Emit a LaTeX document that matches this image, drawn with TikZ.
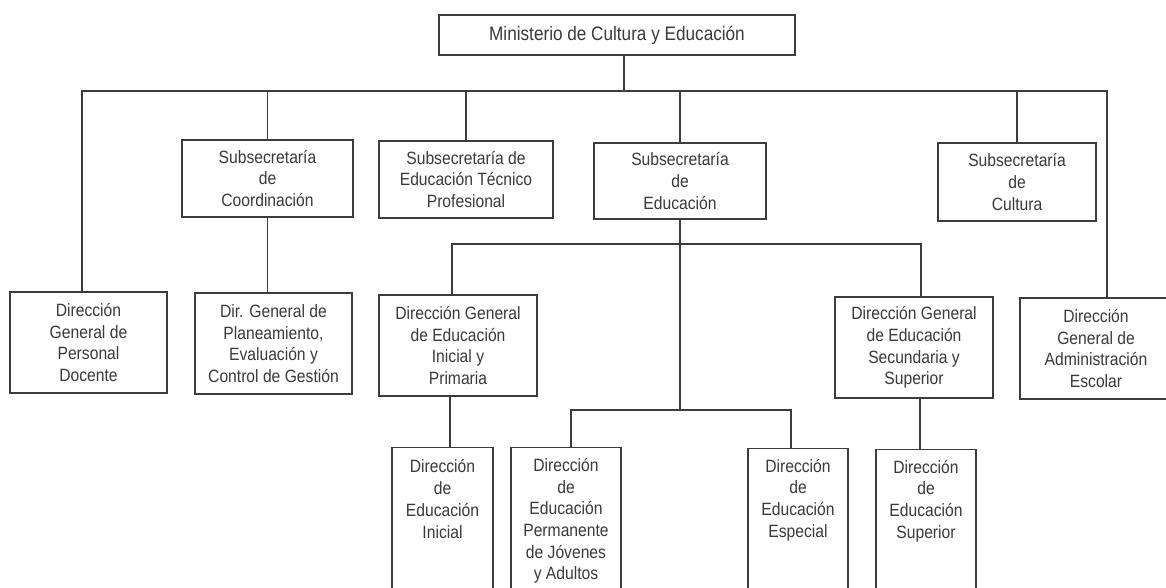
\documentclass[tikz,border=0pt]{standalone}
\usepackage{fontspec}
\setmainfont{Liberation Sans}[FakeStretch=0.88]
\definecolor{linec}{HTML}{3C3C3C}
\definecolor{textc}{HTML}{3A3A3A}
\begin{document}
\begin{tikzpicture}[x=1pt,y=-1pt,
  box/.style={draw=linec, line width=1.1pt, inner sep=0pt, align=center, text=textc,
    font=\fontsize{17.8}{21.7}\selectfont},
  txt/.style={inner sep=0pt, align=center, text=textc, font=\fontsize{17.8}{21.7}\selectfont},
  conn/.style={draw=linec, line width=1.1pt}]
\useasboundingbox (0,0) rectangle (1166,588);
\clip (0,0) rectangle (1166,588);
\fill[white] (0,0) rectangle (1166,588);

\node[box, minimum width=356, minimum height=40, font=\fontsize{19.5}{23}\selectfont] (min) at (617,35) {Ministerio de Cultura y Educación};

\node[box, minimum width=157, minimum height=101] (pers) at (88.5,342.5) {Dirección\\General de\\Personal\\Docente};
\node[box, minimum width=171, minimum height=77] (coord) at (267.5,178.5) {Subsecretaría\\de\\Coordinación};
\node[box, minimum width=157, minimum height=101] (plan) at (273.5,343.5) {Dir. General de\\Planeamiento,\\Evaluación y\\Control de Gestión};
\node[box, minimum width=174, minimum height=77] (tec) at (466,179.5) {Subsecretaría de\\Educación Técnico\\Profesional};
\node[box, minimum width=172, minimum height=76] (edu) at (680,181) {Subsecretaría\\de\\Educación};
\node[box, minimum width=158, minimum height=78] (cult) at (1017,182) {Subsecretaría\\de\\Cultura};
\node[box, minimum width=152, minimum height=101] (adm) at (1096,348.5) {Dirección\\General de\\Administración\\Escolar};
\node[box, minimum width=158, minimum height=101] (inip) at (458,345.5) {Dirección General\\de Educación\\Inicial y\\Primaria};
\node[box, minimum width=158, minimum height=101] (sec) at (914,347.5) {Dirección General\\de Educación\\Secundaria y\\Superior};

\node[box, minimum width=101, minimum height=170, anchor=north] (ei) at (442.5,447) {};
\node[txt] (eit) at (442.5,499) {Dirección\\de\\Educación\\Inicial};
\node[box, minimum width=110, minimum height=170, anchor=north] (perm) at (566,447) {};
\node[txt] (permt) at (566,521) {Dirección\\de\\Educación\\Permanente\\de Jóvenes\\y Adultos};
\node[box, minimum width=100, minimum height=170, anchor=north] (esp) at (798,448) {};
\node[txt] (espt) at (798,500) {Dirección\\de\\Educación\\Especial};
\node[box, minimum width=100, minimum height=170, anchor=north] (sup) at (926,449) {};
\node[txt] (supt) at (926,501) {Dirección\\de\\Educación\\Superior};

\coordinate (bus) at (624,91);
\coordinate (ebus) at (681,244);
\coordinate (bbus) at (681,410);

\draw[conn] ([xshift=7pt]min.south) -- (bus);
\draw[conn] ([xshift=-6.5pt]pers.north) |- (bus) -| ([xshift=11pt]adm.north);
\draw[conn] (coord.north) -- (coord.north |- bus);
\draw[conn] (tec.north) -- (tec.north |- bus);
\draw[conn] (edu.north) -- (edu.north |- bus);
\draw[conn] (cult.north) -- (cult.north |- bus);
\draw[conn] (coord.south) -- (coord.south |- plan.north);

\draw[conn] (edu.south) -- (edu.south |- bbus);
\draw[conn] ([xshift=-6pt]inip.north) |- (ebus) -| ([xshift=7pt]sec.north);
\draw[conn] ([xshift=5pt]perm.north) |- (bbus) -| ([xshift=-7pt]esp.north);
\draw[conn] ([xshift=-8pt]inip.south) -- ([xshift=-8pt]inip.south |- ei.north);
\draw[conn] ([xshift=6pt]sec.south) -- ([xshift=6pt]sec.south |- sup.north);
\end{tikzpicture}
\end{document}
